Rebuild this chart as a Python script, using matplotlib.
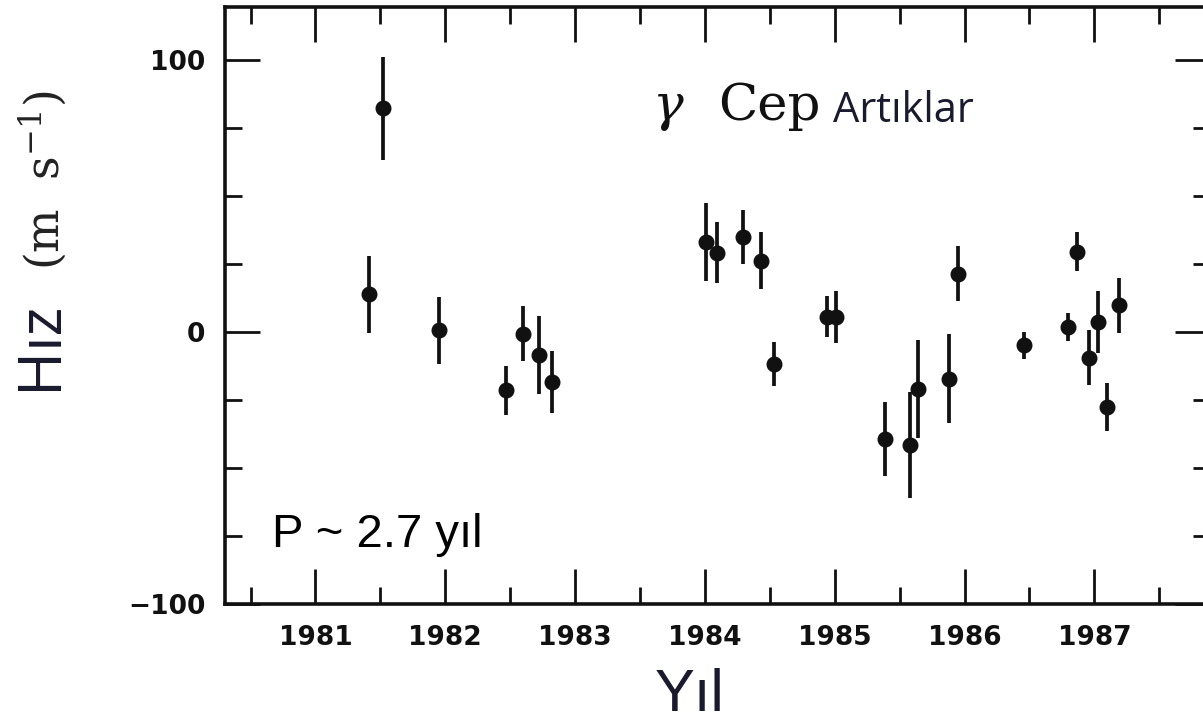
import numpy as np
import matplotlib
matplotlib.use("Agg")
from matplotlib import pyplot as plt
from matplotlib.ticker import MultipleLocator

# residual velocities of gamma Cep
years = [1981.41, 1981.52, 1981.95, 1982.47, 1982.60, 1982.72, 1982.82,
         1984.01, 1984.09, 1984.29, 1984.43, 1984.53, 1984.94, 1985.01,
         1985.39, 1985.58, 1985.64, 1985.88, 1985.95, 1986.46, 1986.80,
         1986.87, 1986.96, 1987.03, 1987.10, 1987.19]
resid = [13.8, 82.2, 0.7, -21.4, -0.6, -8.5, -18.3,
         33.2, 29.2, 35.0, 26.2, -11.6, 5.6, 5.6,
         -39.4, -41.7, -21.0, -17.1, 21.5, -4.9, 1.9,
         29.5, -9.5, 3.7, -27.5, 9.9]
errs = [14.1, 19.0, 12.3, 9.0, 10.0, 14.3, 11.3,
        14.4, 11.3, 10.0, 10.4, 8.1, 7.5, 9.5,
        13.5, 19.5, 18.0, 16.4, 10.2, 5.0, 5.1,
        7.2, 10.1, 11.3, 8.9, 10.1]

year_ticks = [1981, 1982, 1983, 1984, 1985, 1986, 1987]
year_labels = ["1981", "1982", "1983", "1984", "1985", "1986", "1987"]
vel_ticks = [-100, 0, 100]
vel_labels = ["\u2212100", "0", "100"]

W, H = 1203, 723
fig = plt.figure(figsize=(W / 100, H / 100), dpi=100)
ax = fig.add_axes([225 / W, 1 - 604 / H, (1210 - 225) / W, (604 - 6.7) / H])

ax.errorbar(years, resid, yerr=errs, fmt='o', color='#111111', ms=10.5,
            elinewidth=2.7, capsize=0)

ax.set_xlim(1980.303, 1987.891)
ax.set_ylim(-100, 119.6)

ax.set_xticks(year_ticks)
ax.set_xticklabels(year_labels)
ax.xaxis.set_minor_locator(MultipleLocator(0.5))
ax.set_yticks(vel_ticks)
ax.set_yticklabels(vel_labels)
ax.yaxis.set_minor_locator(MultipleLocator(25))

ax.tick_params(which='both', direction='in', top=True, right=True,
               width=2, color='#111111')
ax.tick_params(which='major', length=25)
ax.tick_params(which='minor', length=12.5)
ax.tick_params(axis='x', pad=15)
ax.tick_params(axis='y', pad=14)
for lab in ax.get_xticklabels() + ax.get_yticklabels():
    lab.set_fontfamily('DejaVu Sans')
    lab.set_fontweight('bold')
    lab.set_fontsize(19)
    lab.set_color('#111111')

for sp in ax.spines.values():
    sp.set_linewidth(2.6)
    sp.set_color('#111111')

plt.rcParams['mathtext.fontset'] = 'dejavuserif'

def px(x, y):
    return x / W, 1 - y / H

# title inside the panel
fig.text(*px(652, 120), r'$\gamma$', fontsize=37, va='baseline', ha='left',
         color='#111111')
fig.text(*px(718, 120), 'Cep', fontsize=37, family='DejaVu Serif',
         va='baseline', ha='left', color='#111111')
fig.text(*px(833, 122), 'Artıklar', fontsize=30, family='Open Sans',
         va='baseline', ha='left', color='#1a1a2e')

fig.text(*px(272, 547), 'P ~ 2.7 yıl', fontsize=34, family='Liberation Sans',
         va='baseline', ha='left', color='black')

# axis labels
fig.text(*px(690, 711), 'Yıl', fontsize=43, family='Liberation Sans',
         va='baseline', ha='center', color='#1a1a2e')
fig.text(*px(40, 345), 'Hız', fontsize=44, family='Open Sans', rotation=90,
         va='center', ha='center', color='#1a1a2e')
fig.text(*px(43, 180), r'(m  s$^{-1}$)', fontsize=33, family='DejaVu Serif',
         rotation=90, va='center', ha='center', color='#222222')

fig.savefig('out.png', dpi=100)
